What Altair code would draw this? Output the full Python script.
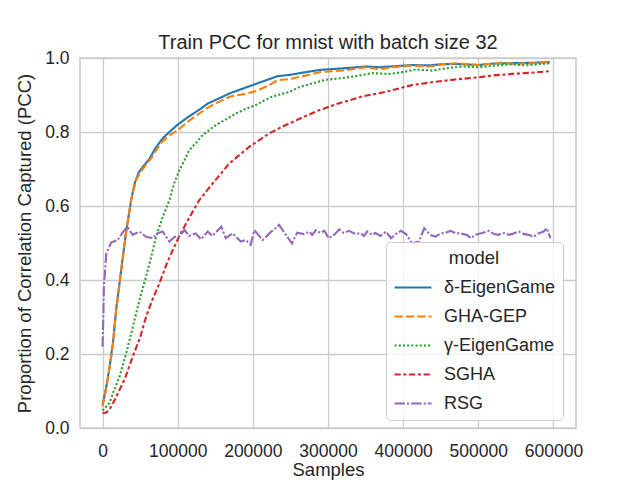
import altair as alt
import pandas as pd

models = ["δ-EigenGame", "GHA-GEP", "γ-EigenGame", "SGHA", "RSG"]
colors = ["#1f77b4", "#ff7f0e", "#2ca02c", "#d62728", "#9467bd"]
dashes = [[1, 0], [8.3, 3.1], [2.1, 2.1], [6.25, 2.6, 3.1, 2.6], [10.4, 2.1, 2.1, 2.1]]

delta_x = [0, 5000, 9000, 14000, 18000, 25000, 31000, 38000, 43000, 48000, 54000, 62000,
           70000, 80000, 90000, 100000, 115000, 130000, 140000, 155000, 170000, 185000,
           200000, 215000, 233000, 248000, 265000, 290000, 320000, 350000, 368000, 390000,
           412000, 434000, 450000, 470000, 500000, 520000, 545000, 570000, 595000]
delta_y = [0.062, 0.112, 0.160, 0.232, 0.318, 0.430, 0.525, 0.616, 0.663, 0.690, 0.707, 0.726,
           0.755, 0.783, 0.802, 0.820, 0.842, 0.862, 0.877, 0.891, 0.905, 0.916,
           0.927, 0.938, 0.951, 0.954, 0.960, 0.968, 0.972, 0.977, 0.975, 0.978,
           0.981, 0.980, 0.983, 0.984, 0.981, 0.985, 0.986, 0.987, 0.989]

gha_x = [0, 5000, 9000, 14000, 18000, 25000, 31000, 38000, 44000, 50000, 57000, 65000,
         73000, 80000, 90000, 100000, 115000, 130000, 140000, 155000, 170000, 190000,
         205000, 220000, 233000, 248000, 265000, 290000, 320000, 350000, 368000, 390000,
         412000, 434000, 455000, 470000, 500000, 530000, 550000, 575000, 595000]
gha_y = [0.058, 0.108, 0.157, 0.230, 0.316, 0.428, 0.524, 0.614, 0.668, 0.690, 0.709, 0.730,
         0.756, 0.776, 0.792, 0.805, 0.830, 0.852, 0.866, 0.882, 0.896, 0.903,
         0.911, 0.925, 0.940, 0.943, 0.950, 0.962, 0.966, 0.975, 0.970, 0.976,
         0.980, 0.977, 0.983, 0.986, 0.981, 0.987, 0.984, 0.986, 0.990]

gamma_x = [0, 9000, 15000, 22600, 31500, 38000, 44800, 51000, 58000, 65000, 71300, 80000,
           89000, 95000, 102300, 110000, 115500, 125000, 133200, 151000, 165000, 177600,
           190000, 204100, 215000, 226200, 248300, 261600, 280000, 297100, 320000, 340000,
           359000, 381500, 400000, 416600, 438600, 460000, 478500, 501000, 520000, 545000,
           562700, 580000, 595900]
gamma_y = [0.047, 0.067, 0.100, 0.139, 0.202, 0.255, 0.310, 0.360, 0.409, 0.465, 0.517, 0.570,
           0.616, 0.660, 0.697, 0.728, 0.751, 0.772, 0.792, 0.819, 0.835, 0.850,
           0.862, 0.873, 0.885, 0.896, 0.908, 0.921, 0.932, 0.941, 0.946, 0.952,
           0.959, 0.957, 0.962, 0.969, 0.966, 0.973, 0.977, 0.975, 0.979, 0.983,
           0.980, 0.983, 0.986]

sgha_x = [0, 5000, 10000, 16000, 22600, 30000, 40200, 50000, 58000, 66000, 75700, 84000,
          93400, 102000, 111200, 120000, 128800, 146500, 168700, 195200, 221800, 235100,
          248300, 270000, 288200, 315000, 345700, 380000, 412100, 440000, 469700, 500700,
          520000, 544900, 570000, 593600]
sgha_y = [0.040, 0.042, 0.053, 0.075, 0.103, 0.135, 0.193, 0.245, 0.301, 0.345, 0.391, 0.437,
          0.481, 0.518, 0.553, 0.585, 0.616, 0.661, 0.715, 0.760, 0.796, 0.810,
          0.823, 0.843, 0.859, 0.878, 0.896, 0.910, 0.927, 0.935, 0.942, 0.948,
          0.953, 0.957, 0.960, 0.964]

rsg_x = [0, 1000, 1800, 5000, 11500, 20000, 27000, 33000, 40000, 49000, 58000, 67000, 73000,
         80000, 89000, 96000, 102000, 109000, 115000, 124000, 131000, 140000, 146000, 158000,
         164000, 173000, 184000, 191000, 197000, 202000, 213000, 222000, 235000, 244000,
         252000, 259000, 268000, 275000, 279000, 284000, 290000, 295000, 301000, 308000,
         315000, 321000, 328000, 337000, 343000, 348000, 352000, 359000, 363000, 370000,
         377000, 384000, 390000, 397000, 404000, 412000, 421000, 428000, 436000, 443000,
         450000, 456000, 463000, 470000, 476000, 485000, 490000, 496000, 505000, 514000,
         521000, 527000, 534000, 541000, 547000, 554000, 561000, 567000, 574000, 580000,
         587000, 591000, 596000]
rsg_y = [0.220, 0.300, 0.382, 0.472, 0.501, 0.508, 0.529, 0.544, 0.522, 0.531, 0.517, 0.513, 0.526,
         0.531, 0.504, 0.517, 0.517, 0.535, 0.519, 0.526, 0.510, 0.531, 0.519, 0.544,
         0.513, 0.526, 0.504, 0.508, 0.495, 0.535, 0.508, 0.526, 0.549, 0.522,
         0.499, 0.528, 0.524, 0.531, 0.522, 0.535, 0.527, 0.533, 0.513, 0.522,
         0.537, 0.527, 0.533, 0.524, 0.527, 0.519, 0.531, 0.522, 0.527, 0.519,
         0.531, 0.513, 0.524, 0.533, 0.524, 0.499, 0.504, 0.540, 0.522, 0.517,
         0.526, 0.527, 0.533, 0.526, 0.526, 0.522, 0.513, 0.522, 0.527, 0.533,
         0.524, 0.522, 0.527, 0.522, 0.526, 0.531, 0.524, 0.522, 0.517, 0.526,
         0.531, 0.540, 0.513]

x_ticks = [0, 100000, 200000, 300000, 400000, 500000, 600000]
y_ticks = [0.0, 0.2, 0.4, 0.6, 0.8, 1.0]

series = [(models[0], delta_x, delta_y), (models[1], gha_x, gha_y),
          (models[2], gamma_x, gamma_y), (models[3], sgha_x, sgha_y),
          (models[4], rsg_x, rsg_y)]
rows = []
for i, (m, xs, ys) in enumerate(series):
    for xv, yv in zip(xs, ys):
        rows.append({"model": m, "order": i, "Samples": xv, "PCC": yv})
df = pd.DataFrame(rows)

FONT = "Liberation Sans"
TXT = "#262626"

leg = alt.Legend(title="model", orient="none", legendX=306, legendY=184)

chart = alt.Chart(df).mark_line(strokeWidth=2.1).encode(
    x=alt.X("Samples:Q",
            scale=alt.Scale(domain=[-30000, 630000], nice=False, zero=False),
            axis=alt.Axis(values=x_ticks, format="d", title="Samples",
                          labelFlush=False)),
    y=alt.Y("PCC:Q",
            scale=alt.Scale(domain=[0, 1], nice=False),
            axis=alt.Axis(values=y_ticks, format=".1f",
                          title="Proportion of Correlation Captured (PCC)")),
    color=alt.Color("model:N", scale=alt.Scale(domain=models, range=colors), legend=leg),
    strokeDash=alt.StrokeDash("model:N", scale=alt.Scale(domain=models, range=dashes),
                              legend=leg),
    detail="order:N",
    order="order:Q",
).properties(
    width=496, height=370,
    title=alt.Title("Train PCC for mnist with batch size 32", fontSize=20,
                    font=FONT, color=TXT, fontWeight="normal", offset=-20,
                    baseline="alphabetic", frame="group", anchor="middle"),
    autosize=alt.AutoSizeParams(type="none"),
    padding={"left": 72, "top": 50, "right": 56, "bottom": 52},
).configure_view(
    stroke="#cccccc", strokeWidth=1.6
).configure_axis(
    grid=True, gridColor="#cccccc", gridWidth=1.3,
    domain=False, ticks=False,
    labelFont=FONT, labelFontSize=17.5, labelColor=TXT,
    titleFont=FONT, titleFontSize=18.5, titleColor=TXT, titleFontWeight="normal",
).configure_axisX(
    labelPadding=14, titlePadding=1
).configure_axisY(
    labelPadding=11, titlePadding=10
).configure_legend(
    symbolType="stroke", symbolSize=1369, symbolStrokeWidth=2.1,
    labelFont=FONT, labelFontSize=18, labelColor=TXT, labelOffset=11,
    titleFont=FONT, titleFontSize=18.5, titleColor=TXT, titleFontWeight="normal",
    titleAnchor="middle", titlePadding=0,
    fillColor="rgba(255,255,255,0.8)", strokeColor="#cccccc", cornerRadius=4,
    padding=7, rowPadding=0,
)

chart.save("out.html", embed_options={"renderer": "svg", "actions": False})
